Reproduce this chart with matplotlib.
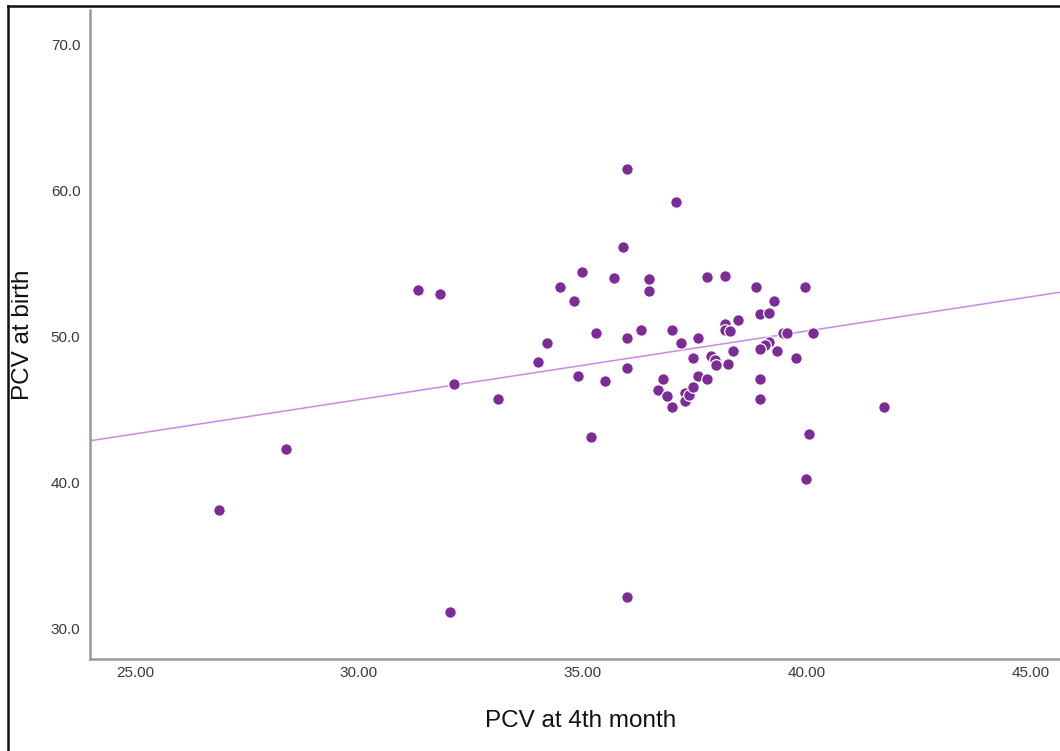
import numpy as np
import matplotlib
matplotlib.use("Agg")
import matplotlib.pyplot as plt
from matplotlib.lines import Line2D

plt.rcParams["font.family"] = ["Liberation Sans", "DejaVu Sans"]

# PCV at 4th month (x) vs PCV at birth (y)
pcv_4th = [35.99, 37.08, 35.89, 34.99, 35.69, 36.48, 36.48, 34.50, 34.80, 31.33,
           31.82, 37.76, 38.17, 38.86, 39.95, 39.26, 38.95, 39.15, 38.46, 38.17,
           38.17, 38.28, 36.98, 36.29, 35.30, 35.98, 37.57, 37.18, 39.46, 39.56,
           40.14, 39.15, 39.06, 38.95, 39.34, 39.75, 38.36, 38.25, 37.86, 37.95,
           37.97, 37.46, 34.20, 34.00, 35.98, 34.90, 35.49, 37.57, 37.77, 36.78,
           38.95, 36.68, 36.88, 36.98, 37.28, 37.28, 37.37, 37.46, 38.95, 32.13,
           33.11, 35.19, 40.04, 41.72, 39.98, 28.37, 26.88, 32.03, 35.98]
pcv_birth = [61.42, 59.20, 56.10, 54.38, 54.00, 53.90, 53.10, 53.33, 52.40, 53.13,
             52.88, 54.02, 54.11, 53.33, 53.33, 52.40, 51.50, 51.60, 51.10, 50.80,
             50.40, 50.36, 50.39, 50.39, 50.20, 49.88, 49.88, 49.50, 50.20, 50.20,
             50.20, 49.61, 49.38, 49.09, 48.99, 48.49, 48.99, 48.10, 48.63, 48.36,
             48.01, 48.49, 49.50, 48.20, 47.81, 47.28, 46.90, 47.26, 47.08, 47.08,
             47.08, 46.30, 45.89, 45.16, 46.12, 45.57, 45.96, 46.49, 45.66, 46.69,
             45.68, 43.10, 43.29, 45.14, 40.20, 42.26, 38.08, 31.10, 32.10]

# fit line as shown in the chart
fit_intercept = 31.55
fit_slope = 0.47

x_ticks = [25, 30, 35, 40, 45]
y_ticks = [30, 40, 50, 60, 70]

fig = plt.figure(figsize=(10.6, 7.51), dpi=100)
ax = fig.add_axes([0.085, 0.1225, 0.915, 0.864])

xmin, xmax = 24.0, 45.65
ax.set_xlim(xmin, xmax)
ax.set_ylim(27.88, 72.33)

xs = np.array([xmin, xmax])
ax.plot(xs, fit_intercept + fit_slope * xs, color="#c98be6", lw=1.1, zorder=2)
ax.scatter(pcv_4th, pcv_birth, s=70, color="#7d2b97", edgecolors="white",
           linewidths=0.9, zorder=3)

ax.set_xticks(x_ticks)
ax.set_xticklabels([f"{v:.2f}" for v in x_ticks])
ax.set_yticks(y_ticks)
ax.set_yticklabels([f"{v:.1f}" for v in y_ticks])
ax.tick_params(length=0, labelsize=11, labelcolor="#3a3a3a")
ax.tick_params(axis="x", pad=5)
ax.tick_params(axis="y", pad=7)

for side in ["top", "right"]:
    ax.spines[side].set_visible(False)
for side in ["left", "bottom"]:
    ax.spines[side].set_color("#999999")
    ax.spines[side].set_linewidth(1.8)

ax.set_xlabel("PCV at 4th month", fontsize=17.5, color="#111111")
ax.set_ylabel("PCV at birth", fontsize=17.5, color="#111111")
ax.xaxis.set_label_coords(0.506, -0.078)
ax.yaxis.set_label_coords(-0.058, 0.5)

# outer frame (top and left edges only, like the screenshot)
fig.add_artist(Line2D([8 / 1060, 8 / 1060], [0, 1 - 6 / 751], transform=fig.transFigure,
                      color="#111111", lw=1.8))
fig.add_artist(Line2D([8 / 1060, 1], [1 - 6 / 751, 1 - 6 / 751], transform=fig.transFigure,
                      color="#111111", lw=1.8))

fig.savefig("out.png", dpi=100)
